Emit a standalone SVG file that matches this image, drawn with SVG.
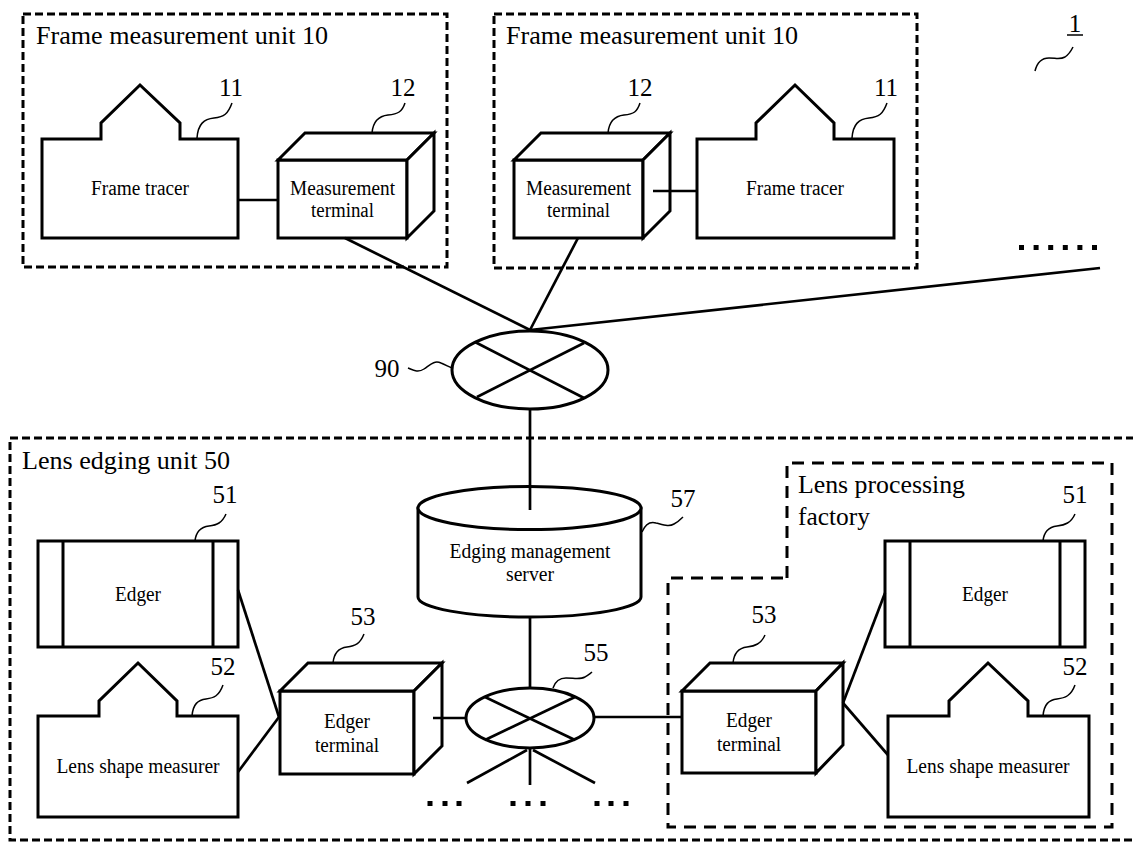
<svg xmlns="http://www.w3.org/2000/svg" width="1133" height="842" viewBox="0 0 1133 842">
<style>
.box{fill:#fff;stroke:#000;stroke-width:3;stroke-linejoin:miter}
.dash{fill:none;stroke:#000;stroke-width:3;stroke-dasharray:8 4}
.dash2{fill:none;stroke:#000;stroke-width:3;stroke-dasharray:12 8}
.conn{fill:none;stroke:#000;stroke-width:2.7}
.lead{fill:none;stroke:#000;stroke-width:1.5}
.dot{fill:#000}
text{font-family:"Liberation Serif","Times New Roman",serif;fill:#000}
.lbl{font-size:20px;text-anchor:middle}
.num{font-size:25px;text-anchor:middle}
.ttl{font-size:25px}
</style>
<rect width="1133" height="842" fill="#fff"/>
<g id="containers">
  <g id="frame-unit-1">
    <rect class="dash" x="23" y="14" width="424" height="253"/>
    <text class="ttl" x="36" y="44" textLength="292" lengthAdjust="spacingAndGlyphs">Frame measurement unit 10</text>
  </g>
  <g id="frame-unit-2">
    <rect class="dash" x="494" y="14" width="423" height="254"/>
    <text class="ttl" x="506" y="44" textLength="292" lengthAdjust="spacingAndGlyphs">Frame measurement unit 10</text>
  </g>
  <g id="lens-edging-unit">
    <rect class="dash" x="10" y="438" width="1140" height="402"/>
    <text class="ttl" x="22" y="469" textLength="208" lengthAdjust="spacingAndGlyphs">Lens edging unit 50</text>
  </g>
  <g id="lens-factory">
    <path class="dash2" d="M787,578 L787,463 L1112,463 L1112,827 L668,827 L668,578 Z"/>
    <text class="ttl" x="798" y="493" textLength="167" lengthAdjust="spacingAndGlyphs">Lens processing</text>
    <text class="ttl" x="798" y="525" textLength="72" lengthAdjust="spacingAndGlyphs">factory</text>
  </g>
</g>
<g id="nodes">
  <g id="frame-tracer-1">
    <path class="box" d="M42,139 L101,139 L101,123 L140,85 L180,123 L180,139 L238,139 L238,238 L42,238 Z"/>
    <text class="lbl" x="140" y="195" textLength="98" lengthAdjust="spacingAndGlyphs">Frame tracer</text>
    <path class="lead" d="M197,138 c1,-14 7,-19 17,-20 c10,-1 14,-4 18,-15"/>
    <text class="num" x="231" y="96">11</text>
  </g>
  <g id="meas-terminal-1">
    <rect class="box" x="278" y="160" width="129" height="78"/>
    <path class="box" d="M278,160 L305,133 L434,133 L407,160 Z"/>
    <path class="box" d="M407,160 L434,133 L434,211 L407,238 Z"/>
    <text class="lbl" x="342.5" y="195" textLength="105" lengthAdjust="spacingAndGlyphs">Measurement</text>
    <text class="lbl" x="342.5" y="217" textLength="63" lengthAdjust="spacingAndGlyphs">terminal</text>
    <path class="lead" d="M372,133 c1,-12 7,-17 16,-18 c10,-1 14,-3 17,-12"/>
    <text class="num" x="403" y="96">12</text>
  </g>
  <g id="meas-terminal-2">
    <rect class="box" x="514" y="160" width="129" height="78"/>
    <path class="box" d="M514,160 L541,133 L670,133 L643,160 Z"/>
    <path class="box" d="M643,160 L670,133 L670,211 L643,238 Z"/>
    <text class="lbl" x="578.5" y="195" textLength="105" lengthAdjust="spacingAndGlyphs">Measurement</text>
    <text class="lbl" x="578.5" y="217" textLength="63" lengthAdjust="spacingAndGlyphs">terminal</text>
    <path class="lead" d="M608,133 c1,-12 7,-17 16,-18 c10,-1 13,-3 16,-12"/>
    <text class="num" x="640" y="96">12</text>
  </g>
  <g id="frame-tracer-2">
    <path class="box" d="M697,139 L756,139 L756,123 L795,85 L834,123 L834,139 L894,139 L894,238 L697,238 Z"/>
    <text class="lbl" x="795" y="195" textLength="98" lengthAdjust="spacingAndGlyphs">Frame tracer</text>
    <path class="lead" d="M852,138 c1,-14 7,-19 17,-20 c10,-1 14,-4 18,-15"/>
    <text class="num" x="886" y="96">11</text>
  </g>
  <g id="system-label">
    <text class="num" x="1075" y="32">1</text>
    <line x1="1067" y1="35" x2="1083" y2="35" stroke="#000" stroke-width="1.5"/>
    <path class="lead" d="M1035,71 c2,-8 6,-13 14,-13 c7,0 11,2 16,-1 c3,-2 6,-6 8,-10"/>
  </g>
  <g id="more-units">
    <rect class="dot" x="1019" y="245" width="5" height="5"/>
    <rect class="dot" x="1033.6" y="245" width="5" height="5"/>
    <rect class="dot" x="1048.2" y="245" width="5" height="5"/>
    <rect class="dot" x="1062.8" y="245" width="5" height="5"/>
    <rect class="dot" x="1077.4" y="245" width="5" height="5"/>
    <rect class="dot" x="1092" y="245" width="5" height="5"/>
  </g>
  <g id="network-90">
    <ellipse class="box" cx="530" cy="370" rx="78" ry="39"/>
    <line class="conn" x1="475" y1="342" x2="584" y2="398"/>
    <line class="conn" x1="584" y1="343" x2="477" y2="397"/>
    <path class="lead" d="M408,368 c5,2 10,5 16,1 c6,-4 10,-9 17,-6 c5,2 8,4 11,5"/>
    <text class="num" x="387" y="377">90</text>
  </g>
  <g id="server-57">
    <path class="box" d="M418,508 L418,597 A111.5,20 0 0 0 641,597 L641,508 Z"/>
    <ellipse class="box" cx="529.5" cy="508" rx="111.5" ry="21.5"/>
    <text class="lbl" x="530" y="558" textLength="161" lengthAdjust="spacingAndGlyphs">Edging management</text>
    <text class="lbl" x="530" y="581" textLength="48" lengthAdjust="spacingAndGlyphs">server</text>
    <path class="lead" d="M642,532 c3,-7 7,-11 14,-9 c8,2 13,4 18,1 c4,-2 7,-5 9,-7"/>
    <text class="num" x="683" y="507">57</text>
  </g>
  <g id="edger-left">
    <rect class="box" x="38" y="541" width="200" height="106"/>
    <line x1="63" y1="541" x2="63" y2="647" stroke="#000" stroke-width="3"/>
    <line x1="213" y1="541" x2="213" y2="647" stroke="#000" stroke-width="3"/>
    <text class="lbl" x="138" y="601" textLength="46" lengthAdjust="spacingAndGlyphs">Edger</text>
    <path class="lead" d="M195,541 c1,-10 6,-14 14,-15 c8,-1 13,-3 17,-12"/>
    <text class="num" x="225" y="503">51</text>
  </g>
  <g id="lens-measurer-left">
    <path class="box" d="M38,716 L99,716 L99,701 L138,663 L177,701 L177,716 L238,716 L238,817 L38,817 Z"/>
    <text class="lbl" x="138" y="773" textLength="163" lengthAdjust="spacingAndGlyphs">Lens shape measurer</text>
    <path class="lead" d="M192,716 c1,-12 6,-16 14,-17 c8,-1 13,-3 17,-14"/>
    <text class="num" x="223" y="675">52</text>
  </g>
  <g id="edger-terminal-left">
    <rect class="box" x="280" y="691" width="134" height="83"/>
    <path class="box" d="M280,691 L308,663 L442,663 L414,691 Z"/>
    <path class="box" d="M414,691 L442,663 L442,746 L414,774 Z"/>
    <text class="lbl" x="347" y="728" textLength="46" lengthAdjust="spacingAndGlyphs">Edger</text>
    <text class="lbl" x="347" y="752" textLength="64" lengthAdjust="spacingAndGlyphs">terminal</text>
    <path class="lead" d="M333,663 c1,-11 6,-15 14,-16 c8,-1 13,-3 17,-13"/>
    <text class="num" x="363" y="625">53</text>
  </g>
  <g id="network-55">
    <ellipse class="box" cx="530" cy="718" rx="64" ry="30"/>
    <line class="conn" x1="485" y1="697" x2="575" y2="740"/>
    <line class="conn" x1="575" y1="697" x2="485" y2="740"/>
    <path class="lead" d="M553,688 c2,-6 6,-10 13,-10 c8,0 14,2 19,-1 c3,-2 5,-3 7,-5"/>
    <text class="num" x="596" y="661">55</text>
  </g>
  <g id="more-edgers">
    <rect class="dot" x="427.5" y="801" width="5" height="5"/>
    <rect class="dot" x="442.5" y="801" width="5" height="5"/>
    <rect class="dot" x="456.5" y="801" width="5" height="5"/>
    <rect class="dot" x="510.5" y="801" width="5" height="5"/>
    <rect class="dot" x="525.5" y="801" width="5" height="5"/>
    <rect class="dot" x="540.5" y="801" width="5" height="5"/>
    <rect class="dot" x="594.5" y="801" width="5" height="5"/>
    <rect class="dot" x="608.5" y="801" width="5" height="5"/>
    <rect class="dot" x="623.5" y="801" width="5" height="5"/>
  </g>
  <g id="edger-terminal-right">
    <rect class="box" x="682" y="691" width="134" height="82"/>
    <path class="box" d="M682,691 L710,663 L843,663 L816,691 Z"/>
    <path class="box" d="M816,691 L843,663 L843,745 L816,773 Z"/>
    <text class="lbl" x="749" y="727" textLength="46" lengthAdjust="spacingAndGlyphs">Edger</text>
    <text class="lbl" x="749" y="751" textLength="64" lengthAdjust="spacingAndGlyphs">terminal</text>
    <path class="lead" d="M733,663 c1,-11 6,-15 14,-16 c8,-1 14,-3 18,-12"/>
    <text class="num" x="764" y="623">53</text>
  </g>
  <g id="edger-right">
    <rect class="box" x="885" y="541" width="200" height="106"/>
    <line x1="910" y1="541" x2="910" y2="647" stroke="#000" stroke-width="3"/>
    <line x1="1060" y1="541" x2="1060" y2="647" stroke="#000" stroke-width="3"/>
    <text class="lbl" x="985" y="601" textLength="46" lengthAdjust="spacingAndGlyphs">Edger</text>
    <path class="lead" d="M1043,541 c1,-10 6,-14 14,-15 c8,-1 14,-3 18,-12"/>
    <text class="num" x="1075" y="503">51</text>
  </g>
  <g id="lens-measurer-right">
    <path class="box" d="M888,716 L949,716 L949,701 L988,663 L1028,701 L1028,716 L1089,716 L1089,817 L888,817 Z"/>
    <text class="lbl" x="988" y="773" textLength="163" lengthAdjust="spacingAndGlyphs">Lens shape measurer</text>
    <path class="lead" d="M1043,716 c1,-12 6,-16 14,-17 c8,-1 14,-3 18,-14"/>
    <text class="num" x="1075" y="675">52</text>
  </g>
</g>
<g id="connectors">
  <line class="conn" x1="238" y1="200" x2="278" y2="200"/>
  <line class="conn" x1="653" y1="191" x2="697" y2="191"/>
  <line class="conn" x1="345" y1="238" x2="530" y2="330"/>
  <line class="conn" x1="578" y1="238" x2="530" y2="330"/>
  <line class="conn" x1="530" y1="330" x2="1100" y2="268"/>
  <line class="conn" x1="530" y1="409" x2="530" y2="510"/>
  <line class="conn" x1="530" y1="617" x2="530" y2="688"/>
  <line class="conn" x1="238" y1="590" x2="279" y2="717"/>
  <line class="conn" x1="238" y1="772" x2="279" y2="717"/>
  <line class="conn" x1="433" y1="718" x2="466" y2="718"/>
  <line class="conn" x1="594" y1="717" x2="682" y2="717"/>
  <line class="conn" x1="843" y1="703" x2="885" y2="593"/>
  <line class="conn" x1="843" y1="703" x2="888" y2="755"/>
  <line class="conn" x1="530" y1="748" x2="530" y2="785"/>
  <line class="conn" x1="527" y1="750" x2="467" y2="783"/>
  <line class="conn" x1="533" y1="750" x2="595" y2="783"/>
</g>
</svg>
